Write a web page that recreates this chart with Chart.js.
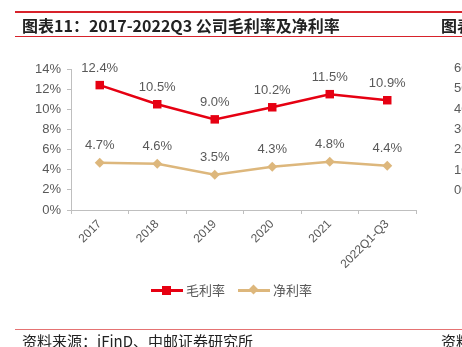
<!DOCTYPE html>
<html>
<head>
<meta charset="utf-8">
<script src="https://cdn.jsdelivr.net/npm/chart.js@4"></script>
<style>
  html, body { margin: 0; padding: 0; background: #fff; }
  body { width: 462px; height: 347px; position: relative; overflow: hidden; font-family: "Noto Sans CJK SC", sans-serif; }
  #chart { position: absolute; left: 0; top: 0; }
  .rule { position: absolute; left: 15px; right: 0; }
  .title { position: absolute; top: 14px; font-size: 16px; font-weight: bold; color: #222; white-space: nowrap; line-height: 22px; }
  .src { position: absolute; top: 331px; font-size: 15px; color: #222; white-space: nowrap; line-height: 20px; }
  .rtick { position: absolute; left: 454px; font-family: "Liberation Sans", Arial, sans-serif; font-size: 13px; color: #595959; line-height: 14px; }
  #legend { position: absolute; top: 281px; left: 151px; height: 18px; font-size: 13px; color: #595959; }
  .item { position: absolute; top: 0; white-space: nowrap; }
  .ln { position: absolute; top: 8px; height: 3px; width: 32px; }
  .mk { position: absolute; }
  .lt { position: absolute; top: 0; line-height: 18px; }
</style>
</head>
<body>
<canvas id="chart" width="462" height="347"></canvas>

<div class="rule" style="top:11px;height:2px;background:#d7222b;"></div>
<div class="rule" style="top:36px;height:1px;background:#d7222b;"></div>
<div class="title" style="left:22px;">图表11：2017-2022Q3 公司毛利率及净利率</div>
<div class="title" style="left:441px;">图表</div>

<div id="legend">
  <div class="item" style="left:0;">
    <div class="ln" style="left:0;background:#e60012;"></div>
    <div class="mk" style="left:11px;top:5px;width:9px;height:9px;background:#e60012;"></div>
    <div class="lt" style="left:35px;">毛利率</div>
  </div>
  <div class="item" style="left:87px;">
    <div class="ln" style="left:0;background:#ddb77c;"></div>
    <div class="mk" style="left:12px;top:5px;width:7px;height:7px;background:#ddb77c;transform:rotate(45deg);"></div>
    <div class="lt" style="left:35px;">净利率</div>
  </div>
</div>

<div class="rule" style="top:329px;height:1px;background:#e57373;"></div>
<div class="src" style="left:22px;">资料来源：iFinD、中邮证券研究所</div>
<div class="src" style="left:441px;">资料来源</div>

<div id="rticks"></div>

<script>
// --- data ---
const categories = ['2017', '2018', '2019', '2020', '2021', '2022Q1-Q3'];
const grossMargin = [12.4, 10.5, 9.0, 10.2, 11.5, 10.9];
const netMargin = [4.7, 4.6, 3.5, 4.3, 4.8, 4.4];
const seriesNames = ['毛利率', '净利率'];
const rightTicks = ['60%', '50%', '40%', '30%', '20%', '10%', '0%']; // cut-off neighbour chart

// neighbour chart's axis labels at the right edge (clipped by the page)
const rt = document.getElementById('rticks');
rightTicks.forEach((t, i) => {
    const d = document.createElement('div');
    d.className = 'rtick';
    d.style.top = (61 + i * 20.3) + 'px';
    d.innerText = t;
    rt.appendChild(d);
});

const labelFont = { family: '"Liberation Sans", Arial, sans-serif', size: 13 };

// value labels above each point
const valueLabels = {
    id: 'valueLabels',
    afterDatasetsDraw(chart) {
        const ctx = chart.ctx;
        ctx.save();
        ctx.font = '13px "Liberation Sans", Arial, sans-serif';
        ctx.fillStyle = '#595959';
        ctx.textAlign = 'center';
        ctx.textBaseline = 'middle';
        chart.data.datasets.forEach((ds, i) => {
            chart.getDatasetMeta(i).data.forEach((pt, j) => {
                ctx.fillText(ds.data[j].toFixed(1) + '%', pt.x, pt.y - 17);
            });
        });
        ctx.restore();
    }
};

new Chart(document.getElementById('chart'), {
    type: 'line',
    data: {
        labels: categories,
        datasets: [{
            label: seriesNames[0],
            data: grossMargin,
            borderColor: '#e60012',
            backgroundColor: '#e60012',
            borderWidth: 2.5,
            pointStyle: 'rect',
            pointRadius: 6,
            pointBorderWidth: 0,
            tension: 0
        }, {
            label: seriesNames[1],
            data: netMargin,
            borderColor: '#ddb77c',
            backgroundColor: '#ddb77c',
            borderWidth: 2.5,
            pointStyle: 'rectRot',
            pointRadius: 5,
            pointBorderWidth: 0,
            tension: 0
        }]
    },
    options: {
        responsive: false,
        animation: false,
        layout: { padding: { left: 0, top: 69, right: 46, bottom: 77 } },
        plugins: { legend: { display: false }, tooltip: { enabled: false } },
        scales: {
            x: {
                offset: true,
                grid: { display: true, offset: true, drawOnChartArea: false, tickLength: 4, color: '#bfbfbf' },
                border: { color: '#bfbfbf' },
                ticks: { color: '#595959', font: { family: labelFont.family, size: 12 }, minRotation: 45, maxRotation: 45, padding: 3 },
                afterFit: s => { s.height = 60; }
            },
            y: {
                min: 0, max: 14,
                grid: { display: true, drawOnChartArea: false, tickLength: 4, color: '#bfbfbf' },
                border: { color: '#bfbfbf' },
                ticks: { stepSize: 2, color: '#595959', font: labelFont, padding: 6, callback: v => v + '%' },
                afterFit: s => { s.width = 71; }
            }
        }
    },
    plugins: [valueLabels]
});
</script>
</body>
</html>
